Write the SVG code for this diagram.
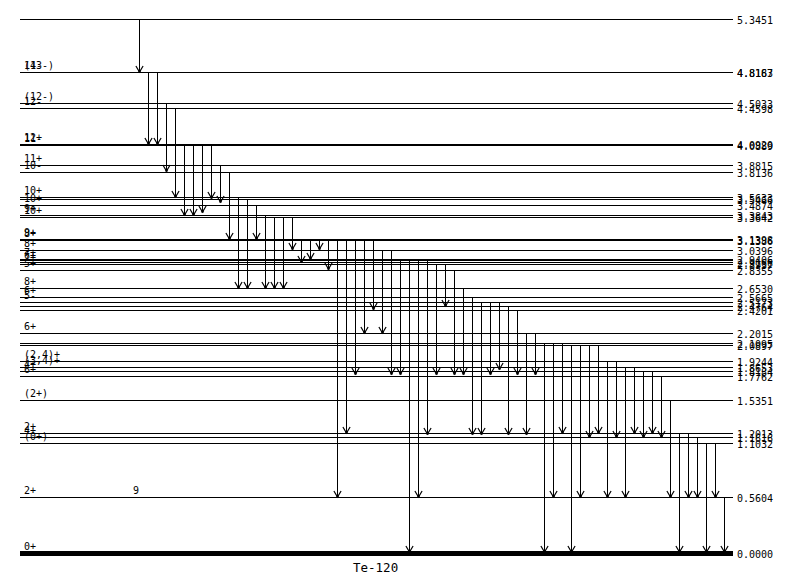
<svg xmlns="http://www.w3.org/2000/svg" width="786" height="576" viewBox="0 0 786 576">
<defs>
<style>
.lv{stroke:#000;stroke-width:1;fill:none}
.gs{stroke:#000;stroke-width:5;fill:none}
.tr{stroke:#000;stroke-width:1;fill:none;marker-end:url(#ah)}
text{font-family:"DejaVu Sans Mono","Liberation Mono",monospace;font-size:10px;fill:#000}
.ttl{font-size:12.5px}
</style>
<marker id="ah" markerUnits="userSpaceOnUse" markerWidth="12" markerHeight="12" viewBox="-7 -5 9 10" refX="0" refY="0" orient="auto" overflow="visible">
<path d="M-5,-3 L0,0 L-5,3" stroke="#000" stroke-width="1" fill="none"/>
<rect x="-1.5" y="-1" width="2" height="2" fill="#000"/>
</marker>
</defs>
<rect width="786" height="576" fill="#fff"/>
<g id="levels">
<g id="L5345"><line class="lv" x1="20" y1="19.5" x2="733" y2="19.5"/><text x="737" y="23.5">5.3451</text></g>
<g id="L4819"><line class="lv" x1="20" y1="72.5" x2="733" y2="72.5"/><text x="24" y="69">14-</text><text x="737" y="76.5">4.8187</text></g>
<g id="L4816"><line class="lv" x1="20" y1="72.5" x2="733" y2="72.5"/><text x="24" y="69">(13-)</text><text x="737" y="76.5">4.8163</text></g>
<g id="L4503"><line class="lv" x1="20" y1="103.5" x2="733" y2="103.5"/><text x="24" y="100">(12-)</text><text x="737" y="107.5">4.5033</text></g>
<g id="L4460"><line class="lv" x1="20" y1="108.5" x2="733" y2="108.5"/><text x="24" y="105">12-</text><text x="737" y="112.5">4.4598</text></g>
<g id="L4092"><line class="lv" x1="20" y1="144.5" x2="733" y2="144.5"/><text x="24" y="141">12+</text><text x="737" y="148.5">4.0920</text></g>
<g id="L4089"><line class="lv" x1="20" y1="145.5" x2="733" y2="145.5"/><text x="24" y="142">11-</text><text x="737" y="149.5">4.0889</text></g>
<g id="L3882"><line class="lv" x1="20" y1="165.5" x2="733" y2="165.5"/><text x="24" y="162">11+</text><text x="737" y="169.5">3.8815</text></g>
<g id="L3814"><line class="lv" x1="20" y1="172.5" x2="733" y2="172.5"/><text x="24" y="169">10-</text><text x="737" y="176.5">3.8136</text></g>
<g id="L3563"><line class="lv" x1="20" y1="197.5" x2="733" y2="197.5"/><text x="24" y="194">10+</text><text x="737" y="201.5">3.5633</text></g>
<g id="L3547"><line class="lv" x1="20" y1="199.5" x2="733" y2="199.5"/><text x="737" y="203.5">3.5466</text></g>
<g id="L3487"><line class="lv" x1="20" y1="205.5" x2="733" y2="205.5"/><text x="24" y="202">10+</text><text x="737" y="209.5">3.4874</text></g>
<g id="L3384"><line class="lv" x1="20" y1="215.5" x2="733" y2="215.5"/><text x="24" y="212">9+</text><text x="737" y="219.5">3.3843</text></g>
<g id="L3364"><line class="lv" x1="20" y1="217.5" x2="733" y2="217.5"/><text x="24" y="214">10+</text><text x="737" y="221.5">3.3642</text></g>
<g id="L3140"><line class="lv" x1="20" y1="239.5" x2="733" y2="239.5"/><text x="24" y="236">9+</text><text x="737" y="243.5">3.1398</text></g>
<g id="L3138"><line class="lv" x1="20" y1="240.5" x2="733" y2="240.5"/><text x="24" y="237">8+</text><text x="737" y="244.5">3.1386</text></g>
<g id="L3040"><line class="lv" x1="20" y1="250.5" x2="733" y2="250.5"/><text x="24" y="247">8+</text><text x="737" y="254.5">3.0396</text></g>
<g id="L2941"><line class="lv" x1="20" y1="259.5" x2="733" y2="259.5"/><line class="lv" x1="20" y1="260.5" x2="733" y2="260.5"/><text x="24" y="256">7+</text><text x="737" y="263.5">2.9406</text></g>
<g id="L2917"><line class="lv" x1="20" y1="262.5" x2="733" y2="262.5"/><text x="24" y="259">6+</text><text x="737" y="266.5">2.9166</text></g>
<g id="L2894"><line class="lv" x1="20" y1="264.5" x2="733" y2="264.5"/><text x="24" y="261">7+</text><text x="737" y="268.5">2.8937</text></g>
<g id="L2836"><line class="lv" x1="20" y1="270.5" x2="733" y2="270.5"/><text x="24" y="267">5+</text><text x="737" y="274.5">2.8355</text></g>
<g id="L2653"><line class="lv" x1="20" y1="288.5" x2="733" y2="288.5"/><text x="24" y="285">8+</text><text x="737" y="292.5">2.6530</text></g>
<g id="L2567"><line class="lv" x1="20" y1="297.5" x2="733" y2="297.5"/><text x="24" y="294">6+</text><text x="737" y="301.5">2.5665</text></g>
<g id="L2517"><line class="lv" x1="20" y1="302.5" x2="733" y2="302.5"/><text x="24" y="299">5-</text><text x="737" y="306.5">2.5173</text></g>
<g id="L2476"><line class="lv" x1="20" y1="306.5" x2="733" y2="306.5"/><text x="737" y="310.5">2.4764</text></g>
<g id="L2420"><line class="lv" x1="20" y1="310.5" x2="733" y2="310.5"/><text x="737" y="314.5">2.4201</text></g>
<g id="L2202"><line class="lv" x1="20" y1="333.5" x2="733" y2="333.5"/><text x="24" y="330">6+</text><text x="737" y="337.5">2.2015</text></g>
<g id="L2110"><line class="lv" x1="20" y1="343.5" x2="733" y2="343.5"/><text x="737" y="347.5">2.1095</text></g>
<g id="L2090"><line class="lv" x1="20" y1="345.5" x2="733" y2="345.5"/><text x="737" y="349.5">2.0897</text></g>
<g id="L1924"><line class="lv" x1="20" y1="361.5" x2="733" y2="361.5"/><text x="24" y="358">(2,4)+</text><text x="737" y="365.5">1.9244</text></g>
<g id="L1865"><line class="lv" x1="20" y1="367.5" x2="733" y2="367.5"/><text x="24" y="364">(3,4)+</text><text x="737" y="371.5">1.8653</text></g>
<g id="L1818"><line class="lv" x1="20" y1="371.5" x2="733" y2="371.5"/><text x="24" y="368">4+</text><text x="737" y="375.5">1.8184</text></g>
<g id="L1776"><line class="lv" x1="20" y1="376.5" x2="733" y2="376.5"/><text x="24" y="373">6+</text><text x="737" y="380.5">1.7762</text></g>
<g id="L1535"><line class="lv" x1="20" y1="400.5" x2="733" y2="400.5"/><text x="24" y="397">(2+)</text><text x="737" y="404.5">1.5351</text></g>
<g id="L1201"><line class="lv" x1="20" y1="433.5" x2="733" y2="433.5"/><text x="24" y="430">2+</text><text x="737" y="437.5">1.2013</text></g>
<g id="L1162"><line class="lv" x1="20" y1="437.5" x2="733" y2="437.5"/><text x="24" y="434">4+</text><text x="737" y="441.5">1.1616</text></g>
<g id="L1103"><line class="lv" x1="20" y1="443.5" x2="733" y2="443.5"/><text x="24" y="440">(0+)</text><text x="737" y="447.5">1.1032</text></g>
<g id="L0560"><line class="lv" x1="20" y1="497.5" x2="733" y2="497.5"/><text x="24" y="494">2+</text><text x="133" y="494">9</text><text x="737" y="501.5">0.5604</text></g>
<g id="L0000"><line class="gs" x1="20" y1="553.5" x2="733" y2="553.5"/><text x="24" y="550">0+</text><text x="737" y="557.5">0.0000</text></g>
</g>
<g id="transitions">
<line class="tr" x1="139.5" y1="19.5" x2="139.5" y2="72"/>
<line class="tr" x1="148.5" y1="72.5" x2="148.5" y2="144"/>
<line class="tr" x1="157.5" y1="72.5" x2="157.5" y2="144"/>
<line class="tr" x1="166.5" y1="103.5" x2="166.5" y2="171"/>
<line class="tr" x1="175.5" y1="108.5" x2="175.5" y2="197"/>
<line class="tr" x1="184.5" y1="145.5" x2="184.5" y2="215"/>
<line class="tr" x1="193.5" y1="145.5" x2="193.5" y2="215"/>
<line class="tr" x1="202.5" y1="145.5" x2="202.5" y2="212"/>
<line class="tr" x1="211.5" y1="145.5" x2="211.5" y2="198"/>
<line class="tr" x1="220.5" y1="165.5" x2="220.5" y2="202"/>
<line class="tr" x1="229.5" y1="172.5" x2="229.5" y2="239"/>
<line class="tr" x1="238.5" y1="197.5" x2="238.5" y2="288"/>
<line class="tr" x1="247.5" y1="199.5" x2="247.5" y2="288"/>
<line class="tr" x1="256.5" y1="205.5" x2="256.5" y2="239"/>
<line class="tr" x1="265.5" y1="215.5" x2="265.5" y2="288"/>
<line class="tr" x1="274.5" y1="217.5" x2="274.5" y2="288"/>
<line class="tr" x1="283.5" y1="217.5" x2="283.5" y2="288"/>
<line class="tr" x1="292.5" y1="217.5" x2="292.5" y2="249"/>
<line class="tr" x1="301.5" y1="240.5" x2="301.5" y2="262"/>
<line class="tr" x1="310.5" y1="240.5" x2="310.5" y2="259"/>
<line class="tr" x1="319.5" y1="240.5" x2="319.5" y2="249"/>
<line class="tr" x1="328.5" y1="240.5" x2="328.5" y2="269"/>
<line class="tr" x1="337.5" y1="240.5" x2="337.5" y2="497"/>
<line class="tr" x1="346.5" y1="240.5" x2="346.5" y2="433"/>
<line class="tr" x1="355.5" y1="240.5" x2="355.5" y2="374"/>
<line class="tr" x1="364.5" y1="240.5" x2="364.5" y2="333"/>
<line class="tr" x1="373.5" y1="240.5" x2="373.5" y2="309"/>
<line class="tr" x1="382.5" y1="250.5" x2="382.5" y2="333"/>
<line class="tr" x1="391.5" y1="250.5" x2="391.5" y2="374"/>
<line class="tr" x1="400.5" y1="260.5" x2="400.5" y2="374"/>
<line class="tr" x1="409.5" y1="260.5" x2="409.5" y2="552"/>
<line class="tr" x1="418.5" y1="260.5" x2="418.5" y2="497"/>
<line class="tr" x1="427.5" y1="260.5" x2="427.5" y2="434"/>
<line class="tr" x1="436.5" y1="264.5" x2="436.5" y2="374"/>
<line class="tr" x1="445.5" y1="264.5" x2="445.5" y2="306"/>
<line class="tr" x1="454.5" y1="270.5" x2="454.5" y2="374"/>
<line class="tr" x1="463.5" y1="288.5" x2="463.5" y2="374"/>
<line class="tr" x1="472.5" y1="297.5" x2="472.5" y2="434"/>
<line class="tr" x1="481.5" y1="302.5" x2="481.5" y2="434"/>
<line class="tr" x1="490.5" y1="302.5" x2="490.5" y2="374"/>
<line class="tr" x1="499.5" y1="302.5" x2="499.5" y2="369"/>
<line class="tr" x1="508.5" y1="306.5" x2="508.5" y2="434"/>
<line class="tr" x1="517.5" y1="310.5" x2="517.5" y2="374"/>
<line class="tr" x1="526.5" y1="333.5" x2="526.5" y2="434"/>
<line class="tr" x1="535.5" y1="333.5" x2="535.5" y2="374"/>
<line class="tr" x1="544.5" y1="343.5" x2="544.5" y2="552"/>
<line class="tr" x1="553.5" y1="343.5" x2="553.5" y2="497"/>
<line class="tr" x1="562.5" y1="343.5" x2="562.5" y2="433"/>
<line class="tr" x1="571.5" y1="345.5" x2="571.5" y2="552"/>
<line class="tr" x1="580.5" y1="345.5" x2="580.5" y2="497"/>
<line class="tr" x1="589.5" y1="345.5" x2="589.5" y2="437"/>
<line class="tr" x1="598.5" y1="345.5" x2="598.5" y2="433"/>
<line class="tr" x1="607.5" y1="361.5" x2="607.5" y2="497"/>
<line class="tr" x1="616.5" y1="361.5" x2="616.5" y2="437"/>
<line class="tr" x1="625.5" y1="367.5" x2="625.5" y2="497"/>
<line class="tr" x1="634.5" y1="367.5" x2="634.5" y2="433"/>
<line class="tr" x1="643.5" y1="371.5" x2="643.5" y2="437"/>
<line class="tr" x1="652.5" y1="371.5" x2="652.5" y2="433"/>
<line class="tr" x1="661.5" y1="376.5" x2="661.5" y2="437"/>
<line class="tr" x1="670.5" y1="400.5" x2="670.5" y2="497"/>
<line class="tr" x1="679.5" y1="433.5" x2="679.5" y2="552"/>
<line class="tr" x1="688.5" y1="433.5" x2="688.5" y2="497"/>
<line class="tr" x1="697.5" y1="437.5" x2="697.5" y2="497"/>
<line class="tr" x1="706.5" y1="443.5" x2="706.5" y2="552"/>
<line class="tr" x1="715.5" y1="443.5" x2="715.5" y2="497"/>
<line class="tr" x1="724.5" y1="497.5" x2="724.5" y2="552"/>
</g>
<text class="ttl" x="353" y="572">Te-120</text>
</svg>
